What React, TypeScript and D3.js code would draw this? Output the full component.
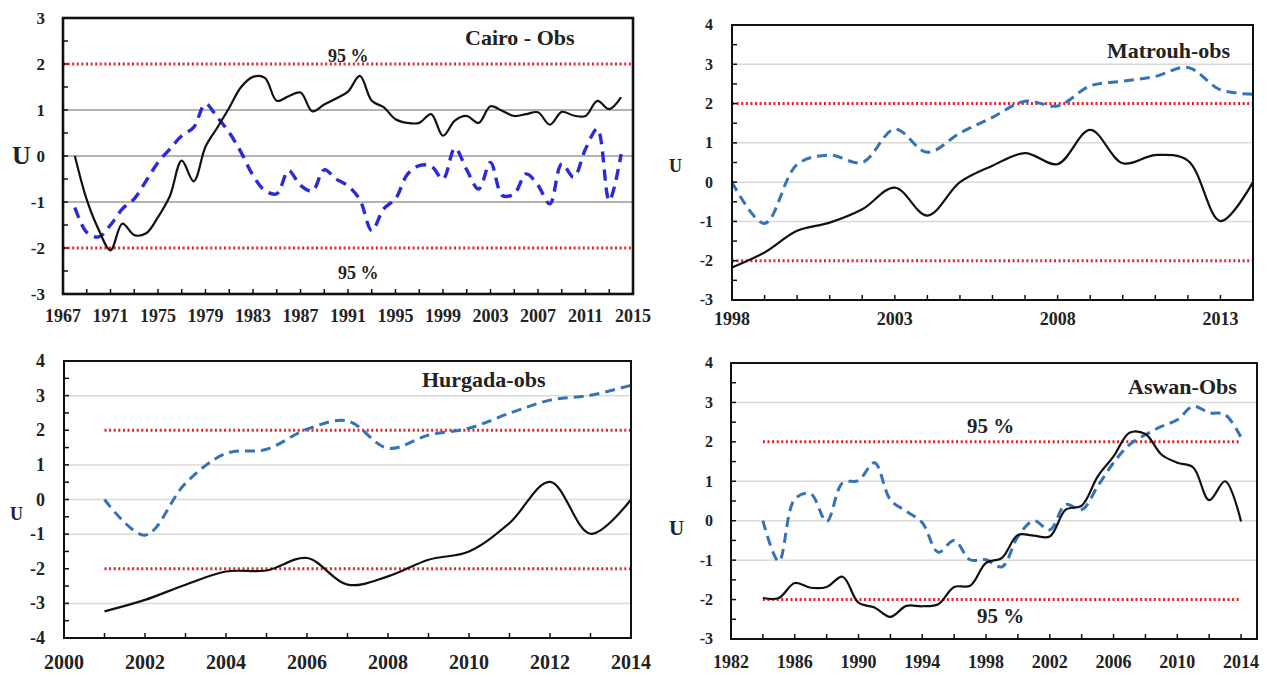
import React from 'react';
import * as d3 from 'd3';

const FONT = '"Liberation Serif", "Times New Roman", serif';

// ---------- Cairo (1968–2014) ----------
const cairoStartYear = 1968;
const cairoUf = [0, -0.95, -1.6, -2.05, -1.47, -1.72, -1.68, -1.33, -0.87, -0.1, -0.55, 0.2, 0.62, 1.05, 1.5, 1.72, 1.7, 1.2, 1.3, 1.38, 0.97, 1.12, 1.25, 1.4, 1.74, 1.2, 1.06, 0.8, 0.72, 0.72, 0.91, 0.44, 0.77, 0.87, 0.72, 1.08, 0.98, 0.87, 0.91, 0.95, 0.68, 0.96, 0.88, 0.87, 1.2, 1.02, 1.28];
const cairoUb = [-1.12, -1.66, -1.76, -1.5, -1.15, -0.93, -0.54, -0.14, 0.15, 0.44, 0.62, 1.13, 0.84, 0.51, 0.08, -0.42, -0.75, -0.82, -0.32, -0.64, -0.76, -0.3, -0.5, -0.65, -0.95, -1.62, -1.15, -0.93, -0.4, -0.21, -0.22, -0.5, 0.17, -0.3, -0.72, -0.14, -0.86, -0.82, -0.39, -0.64, -1.04, -0.17, -0.46, 0.15, 0.59, -0.97, 0.04];
const cairoXLabels = [1967, 1971, 1975, 1979, 1983, 1987, 1991, 1995, 1999, 2003, 2007, 2011, 2015];
const cairoXTicks = [1969, 1971, 1973, 1975, 1977, 1979, 1981, 1983, 1985, 1987, 1989, 1991, 1993, 1995, 1997, 1999, 2001, 2003, 2005, 2007, 2009, 2011, 2013];
const cairoYLabels = [-3, -2, -1, 0, 1, 2, 3];

// ---------- Matrouh (1998–2014) ----------
const matrouhStartYear = 1998;
const matrouhUf = [-2.17, -1.79, -1.24, -1.03, -0.69, -0.14, -0.85, 0.0, 0.42, 0.74, 0.46, 1.33, 0.48, 0.69, 0.55, -0.99, 0.0];
const matrouhUb = [0, -1.05, 0.45, 0.69, 0.5, 1.35, 0.76, 1.25, 1.65, 2.06, 1.94, 2.45, 2.57, 2.69, 2.92, 2.35, 2.24];
const matrouhXLabels = [1998, 2003, 2008, 2013];
const matrouhXTicks = [1999, 2000, 2001, 2002, 2003, 2004, 2005, 2006, 2007, 2008, 2009, 2010, 2011, 2012, 2013];
const matrouhYLabels = [-3, -2, -1, 0, 1, 2, 3, 4];

// ---------- Hurgada (2001–2014) ----------
const hurgadaStartYear = 2001;
const hurgadaUf = [-3.23, -2.9, -2.46, -2.08, -2.05, -1.69, -2.46, -2.22, -1.74, -1.5, -0.68, 0.51, -0.99, 0.0];
const hurgadaUb = [0, -1.03, 0.47, 1.33, 1.45, 2.03, 2.27, 1.48, 1.86, 2.06, 2.49, 2.87, 3.01, 3.3];
const hurgadaXLabels = [2000, 2002, 2004, 2006, 2008, 2010, 2012, 2014];
const hurgadaXTicks = [2001, 2002, 2003, 2004, 2005, 2006, 2007, 2008, 2009, 2010, 2011, 2012, 2013];
const hurgadaYLabels = [-4, -3, -2, -1, 0, 1, 2, 3, 4];

// ---------- Aswan (1984–2014) ----------
const aswanStartYear = 1984;
const aswanUf = [-1.96, -1.96, -1.58, -1.7, -1.68, -1.42, -2.08, -2.2, -2.44, -2.16, -2.17, -2.12, -1.68, -1.65, -1.07, -0.94, -0.36, -0.38, -0.4, 0.28, 0.38, 1.12, 1.63, 2.23, 2.2, 1.68, 1.47, 1.35, 0.52, 1.0, -0.02];
const aswanUb = [0, -1.03, 0.55, 0.68, -0.02, 0.96, 1.02, 1.47, 0.53, 0.24, -0.05, -0.8, -0.5, -0.99, -0.99, -1.17, -0.4, 0.0, -0.23, 0.41, 0.28, 0.87, 1.47, 1.93, 2.18, 2.39, 2.56, 2.9, 2.74, 2.69, 2.11];
const aswanXLabels = [1982, 1986, 1990, 1994, 1998, 2002, 2006, 2010, 2014];
const aswanXTicks = [1984, 1986, 1988, 1990, 1992, 1994, 1996, 1998, 2000, 2002, 2004, 2006, 2008, 2010, 2012, 2014];
const aswanYLabels = [-3, -2, -1, 0, 1, 2, 3, 4];

type Pct = { x: number; y: number; size: number };

interface PanelCfg {
  xDomain: [number, number];
  xRange: [number, number];
  yDomain: [number, number];
  yRange: [number, number];
  startYear: number;
  uf: number[];
  ub: number[];
  xLabels: number[];
  xTicks: number[];
  xLabelY: number;
  xLabelSize: number;
  yLabels: number[];
  yLabelX: number;
  yLabelSize: number;
  gridColor: string;
  gridWidth: number;
  redFrom: number;
  redTo: number;
  blue: string;
  blueWidth: number;
  blueDash: string;
  frameWidth: number;
  title: string;
  titleX: number;
  titleY: number;
  titleSize: number;
  uX: number;
  uY: number;
  uSize: number;
  pcts: Pct[];
}

const Panel: React.FC<{ cfg: PanelCfg }> = ({ cfg }) => {
  const x = d3.scaleLinear().domain(cfg.xDomain).range(cfg.xRange);
  const y = d3.scaleLinear().domain(cfg.yDomain).range(cfg.yRange);
  const [x0, x1] = cfg.xRange;
  const [yb, yt] = cfg.yRange;
  const line = d3
    .line<number>()
    .x((_, i) => x(cfg.startYear + i))
    .y((d) => y(d))
    .curve(d3.curveCatmullRom.alpha(0.5));
  const gridVals = cfg.yLabels.filter((v) => v !== 2 && v !== -2 && v !== cfg.yDomain[0] && v !== cfg.yDomain[1]);
  const minor = d3.range(cfg.yDomain[0] + 0.5, cfg.yDomain[1], 0.5);
  return (
    <g>
      {gridVals.map((v) => (
        <line key={'g' + v} x1={x0} x2={x1} y1={y(v)} y2={y(v)} stroke={cfg.gridColor} strokeWidth={cfg.gridWidth} />
      ))}
      {[2, -2].map((v) => (
        <line
          key={'r' + v}
          x1={x(cfg.redFrom)}
          x2={x(cfg.redTo)}
          y1={y(v)}
          y2={y(v)}
          stroke="#e3232c"
          strokeWidth={3}
          strokeDasharray="2 2.6"
        />
      ))}
      <path d={line(cfg.ub) || ''} fill="none" stroke={cfg.blue} strokeWidth={cfg.blueWidth} strokeDasharray={cfg.blueDash} />
      <path d={line(cfg.uf) || ''} fill="none" stroke="#111" strokeWidth={2.2} />
      <rect x={x0} y={yt} width={x1 - x0} height={yb - yt} fill="none" stroke="#111" strokeWidth={cfg.frameWidth} />
      {cfg.xTicks.map((t) => (
        <line key={'xt' + t} x1={x(t)} x2={x(t)} y1={yb} y2={yb - 5} stroke="#111" strokeWidth={1.5} />
      ))}
      {minor.map((t) => (
        <line key={'yt' + t} x1={x0} x2={x0 + 5} y1={y(t)} y2={y(t)} stroke="#111" strokeWidth={1.5} />
      ))}
      {cfg.xLabels.map((t) => (
        <text key={'xl' + t} x={x(t)} y={cfg.xLabelY} textAnchor="middle" fontSize={cfg.xLabelSize} fontWeight="bold" fontFamily={FONT} fill="#222">
          {t}
        </text>
      ))}
      {cfg.yLabels.map((t) => (
        <text key={'yl' + t} x={cfg.yLabelX} y={y(t) + cfg.yLabelSize * 0.34} textAnchor="end" fontSize={cfg.yLabelSize} fontWeight="bold" fontFamily={FONT} fill="#222">
          {t}
        </text>
      ))}
      <text x={cfg.uX} y={cfg.uY} fontSize={cfg.uSize} fontWeight="bold" fontFamily={FONT} fill="#222">
        U
      </text>
      <text x={cfg.titleX} y={cfg.titleY} fontSize={cfg.titleSize} fontWeight="bold" fontFamily={FONT} fill="#222">
        {cfg.title}
      </text>
      {cfg.pcts.map((p, i) => (
        <text key={'p' + i} x={p.x} y={p.y} fontSize={p.size} fontWeight="bold" fontFamily={FONT} fill="#222">
          95 %
        </text>
      ))}
    </g>
  );
};

const cairo: PanelCfg = {
  xDomain: [1967, 2015], xRange: [63, 633], yDomain: [-3, 3], yRange: [294, 18],
  startYear: cairoStartYear, uf: cairoUf, ub: cairoUb,
  xLabels: cairoXLabels, xTicks: cairoXTicks, xLabelY: 322, xLabelSize: 18,
  yLabels: cairoYLabels, yLabelX: 45, yLabelSize: 17,
  gridColor: '#9a9a9a', gridWidth: 1.3, redFrom: 1967, redTo: 2015,
  blue: '#2a2ad8', blueWidth: 3.4, blueDash: '11 7', frameWidth: 2.6,
  title: 'Cairo - Obs', titleX: 465, titleY: 45, titleSize: 22,
  uX: 12, uY: 164, uSize: 26,
  pcts: [{ x: 328, y: 62, size: 18 }, { x: 338, y: 279, size: 18 }],
};

const matrouh: PanelCfg = {
  xDomain: [1998, 2014], xRange: [732, 1253], yDomain: [-3, 4], yRange: [300, 25],
  startYear: matrouhStartYear, uf: matrouhUf, ub: matrouhUb,
  xLabels: matrouhXLabels, xTicks: matrouhXTicks, xLabelY: 325, xLabelSize: 18,
  yLabels: matrouhYLabels, yLabelX: 713, yLabelSize: 16,
  gridColor: '#dadada', gridWidth: 1.5, redFrom: 1998, redTo: 2014,
  blue: '#3572b8', blueWidth: 3, blueDash: '10 6', frameWidth: 2,
  title: 'Matrouh-obs', titleX: 1107, titleY: 58, titleSize: 22,
  uX: 669, uY: 172, uSize: 18,
  pcts: [],
};

const hurgada: PanelCfg = {
  xDomain: [2000, 2014], xRange: [64, 631], yDomain: [-4, 4], yRange: [638, 361],
  startYear: hurgadaStartYear, uf: hurgadaUf, ub: hurgadaUb,
  xLabels: hurgadaXLabels, xTicks: hurgadaXTicks, xLabelY: 669, xLabelSize: 20,
  yLabels: hurgadaYLabels, yLabelX: 45, yLabelSize: 18,
  gridColor: '#dadada', gridWidth: 1.5, redFrom: 2001, redTo: 2014,
  blue: '#3572b8', blueWidth: 3, blueDash: '10 6', frameWidth: 2,
  title: 'Hurgada-obs', titleX: 422, titleY: 387, titleSize: 22,
  uX: 10, uY: 520, uSize: 18,
  pcts: [],
};

const aswan: PanelCfg = {
  xDomain: [1982, 2015], xRange: [731, 1257], yDomain: [-3, 4], yRange: [639, 363],
  startYear: aswanStartYear, uf: aswanUf, ub: aswanUb,
  xLabels: aswanXLabels, xTicks: aswanXTicks, xLabelY: 668, xLabelSize: 18,
  yLabels: aswanYLabels, yLabelX: 713, yLabelSize: 16,
  gridColor: '#dadada', gridWidth: 1.5, redFrom: 1984, redTo: 2014,
  blue: '#3572b8', blueWidth: 3, blueDash: '10 6', frameWidth: 2,
  title: 'Aswan-Obs', titleX: 1128, titleY: 394, titleSize: 22,
  uX: 669, uY: 535, uSize: 21,
  pcts: [{ x: 967, y: 433, size: 21 }, { x: 977, y: 623, size: 21 }],
};

export default function App() {
  return (
    <svg
      width={1267}
      height={675}
      viewBox="0 0 1267 675"
      style={{ position: 'absolute', left: 0, top: 0, background: '#fff' }}
    >
      <rect x={0} y={0} width={1267} height={675} fill="#fff" />
      <Panel cfg={cairo} />
      <Panel cfg={matrouh} />
      <Panel cfg={hurgada} />
      <Panel cfg={aswan} />
    </svg>
  );
}
